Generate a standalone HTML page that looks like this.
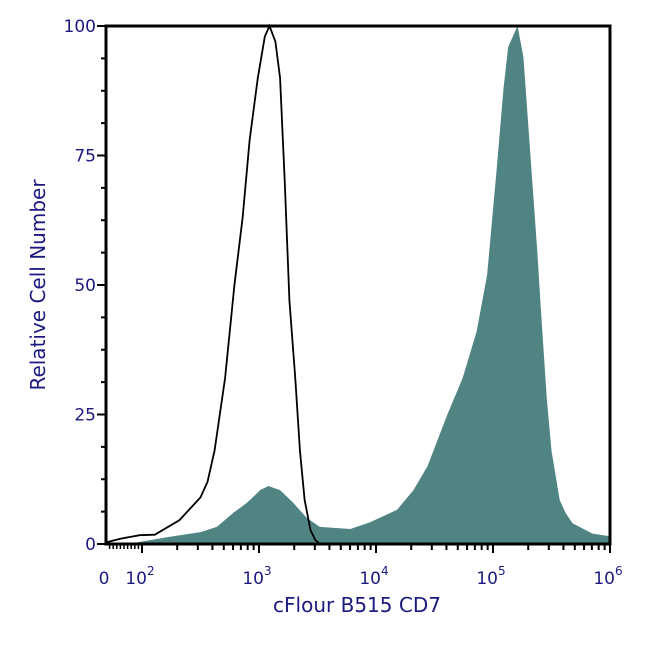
<!DOCTYPE html>
<html><head><meta charset="utf-8"><style>
body{margin:0;background:#fff}
svg{display:block;font-family:"DejaVu Sans","Liberation Sans",sans-serif}
</style></head><body>
<svg id="c" width="650" height="650"></svg>
<script>
const filledLog=[1.90,1.98,2.24,2.50,2.64,2.78,2.90,3.01,3.08,3.18,3.29,3.41,3.52,3.78,3.95,4.18,4.32,4.44,4.61,4.74,4.86,4.95,5.03,5.09,5.13,5.21,5.26,5.32,5.38,5.41,5.46,5.50,5.57,5.62,5.68,5.85,6.0];
const filledCount=[0,0.4,1.4,2.3,3.3,6,8,10.4,11.2,10.4,8,5,3.3,2.9,4.2,6.6,10.4,15,25,32,41,52,72,88,96,100,94,75,56,45,28,18,8.5,6,4,2,1.5];
const lineLog=[1.69,1.81,1.98,2.11,2.32,2.50,2.56,2.62,2.71,2.79,2.86,2.92,2.99,3.05,3.09,3.14,3.18,3.22,3.26,3.31,3.35,3.39,3.44,3.48,3.52];
const lineCount=[0.3,1,1.7,1.8,4.6,9,12,18,32,50,63,78,90,98,100,97,90,70,47,32,18,8.5,2.7,0.8,0];
const yTicks=[0,25,50,75,100];
const xDecades=[2,3,4,5,6];

const NS="http://www.w3.org/2000/svg";
const svg=document.getElementById('c');
const L=106,R=610,T=26,B=544,X0=142,DEC=117;
const xs=u=>X0+(u-2)*DEC;
const ys=v=>B-(v/100)*(B-T);
function mk(tag,attrs,parent){const e=document.createElementNS(NS,tag);for(const k in attrs)e.setAttribute(k,attrs[k]);(parent||svg).appendChild(e);return e;}
const navy="#1a1a80";

let d=`M${xs(filledLog[0])},${B}`;
filledLog.forEach((u,i)=>{d+=` L${xs(u)},${ys(filledCount[i])}`});
d+=` L${xs(filledLog[filledLog.length-1])},${B} Z`;
const fp=mk('path',{d:d,fill:'#4f8482',stroke:'none'});



let d2='';
lineLog.forEach((u,i)=>{d2+=(i?' L':'M')+xs(u)+','+ys(lineCount[i])});
const lp=mk('path',{d:d2,fill:'none',stroke:'#000','stroke-width':1.8});



const fr=mk('rect',{x:L,y:T,width:R-L,height:B-T,fill:'none',stroke:'#000','stroke-width':3});



for(let v=0;v<=100;v+=6.25){const major=yTicks.includes(v);mk('line',{x1:L-(major?9:5),x2:L,y1:ys(v),y2:ys(v),stroke:'#000','stroke-width':2});}
yTicks.forEach(v=>{const t=mk('text',{x:L-10,y:ys(v)+6,'text-anchor':'end','font-size':17,fill:navy});t.textContent=v;

});

for(let v=10;v<100;v+=10){const x=L+(X0-L)*v/100;mk('line',{x1:x,x2:x,y1:B,y2:B+5,stroke:'#000','stroke-width':1.5});}
xDecades.forEach(k=>{mk('line',{x1:xs(k),x2:xs(k),y1:B,y2:B+9,stroke:'#000','stroke-width':2});
 if(k<6)for(let m=2;m<10;m++){const x=xs(k+Math.log10(m));mk('line',{x1:x,x2:x,y1:B,y2:B+6,stroke:'#000','stroke-width':2});}
 const t=mk('text',{x:xs(k)-2,y:B+40,'text-anchor':'middle','font-size':17,fill:navy});
 t.innerHTML=`10<tspan dy="-9" font-size="12">${k}</tspan>`;
 
 });
const z=mk('text',{x:L-2,y:B+40,'text-anchor':'middle','font-size':17,fill:navy});z.textContent='0';



const xt=mk('text',{x:357,y:612,'text-anchor':'middle','font-size':20,fill:navy});xt.textContent='cFlour B515 CD7';


const yt=mk('text',{x:0,y:0,'text-anchor':'middle','font-size':20,fill:navy,transform:'translate(45,285) rotate(-90)'});yt.textContent='Relative Cell Number';


</script>
</body></html>
